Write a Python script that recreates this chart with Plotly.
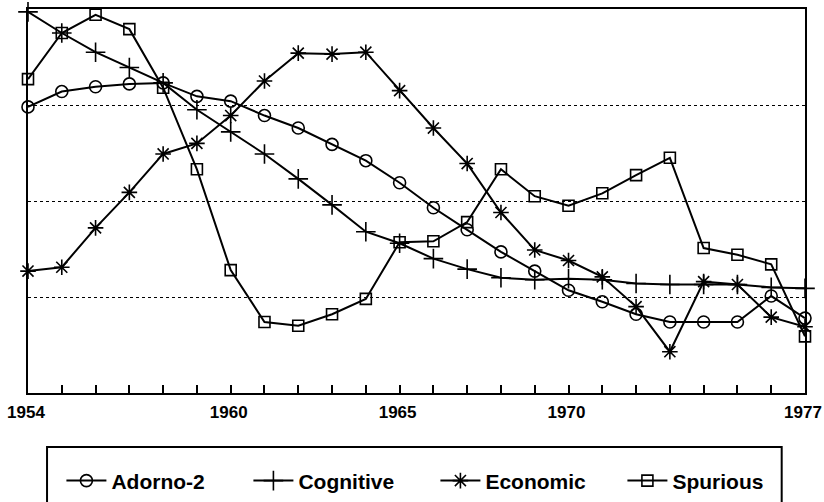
import plotly.graph_objects as go

years = list(range(1954, 1978))
adorno2 = [2.98, 3.14, 3.19, 3.22, 3.23, 3.09, 3.04, 2.89, 2.76, 2.59, 2.42, 2.19,
           1.93, 1.70, 1.47, 1.27, 1.07, 0.95, 0.82, 0.74, 0.74, 0.74, 1.01, 0.78]
cognitive = [3.97, 3.75, 3.55, 3.39, 3.23, 2.95, 2.72, 2.49, 2.23, 1.96, 1.68, 1.56,
             1.40, 1.29, 1.20, 1.18, 1.19, 1.18, 1.14, 1.13, 1.13, 1.13, 1.10, 1.09]
economic = [1.27, 1.31, 1.72, 2.09, 2.49, 2.60, 2.89, 3.25, 3.54, 3.53, 3.55, 3.15,
            2.76, 2.39, 1.88, 1.49, 1.38, 1.21, 0.90, 0.43, 1.16, 1.13, 0.79, 0.69]
spurious = [3.27, 3.75, 3.94, 3.79, 3.18, 2.33, 1.28, 0.74, 0.70, 0.82, 0.98, 1.57,
            1.58, 1.78, 2.33, 2.05, 1.95, 2.08, 2.27, 2.45, 1.51, 1.44, 1.34, 0.59]
labeled_years = {1954: "1954", 1960: "1960", 1965: "1965", 1970: "1970", 1977: "1977"}

series = [
    ("Adorno-2", adorno2, "circle-open", 12),
    ("Cognitive", cognitive, "cross-thin-open", 14),
    ("Economic", economic, "asterisk-open", 13),
    ("Spurious", spurious, "square-open", 11),
]

FONT = "Liberation Sans, Arial, sans-serif"

fig = go.Figure()
for name, vals, sym, size in series:
    fig.add_trace(go.Scatter(
        x=years, y=vals, name=name, mode="lines+markers",
        line=dict(color="black", width=2),
        marker=dict(symbol=sym, size=size, color="black",
                    line=dict(color="black", width=1.6)),
        cliponaxis=False,
    ))

fig.update_layout(
    width=824, height=502,
    margin=dict(l=28, r=19, t=9, b=109, autoexpand=False),
    paper_bgcolor="white", plot_bgcolor="white",
    font=dict(family=FONT, color="black"),
    showlegend=True,
    legend=dict(
        orientation="h", x=0.043, xanchor="left", y=-0.229, yanchor="middle",
        font=dict(size=21, family=FONT, color="black", weight="bold"),
        itemwidth=40, entrywidth=132, bgcolor="rgba(0,0,0,0)",
    ),
    shapes=[dict(type="rect", xref="paper", yref="paper",
                 x0=0.0245, x1=0.970, y0=-0.1406, y1=-0.6,
                 line=dict(color="black", width=2))],
)
fig.update_xaxes(
    range=[1954, 1977], showline=True, linecolor="black", linewidth=2, mirror=True,
    ticks="inside", ticklen=8, tickwidth=1.5, tickcolor="black",
    tickvals=years, ticktext=[labeled_years.get(y, "") for y in years],
    tickfont=dict(size=17, family=FONT, weight="bold"),
    ticklabelstandoff=3, ticklabelshift=-2, ticklabeloverflow="allow",
    showgrid=False, zeroline=False, automargin=False,
)
fig.update_yaxes(
    range=[0, 4], showline=True, linecolor="black", linewidth=2, mirror=True,
    tickvals=[1, 2, 3], showticklabels=False, ticks="",
    showgrid=True, gridcolor="black", gridwidth=1.2, griddash="dot",
    zeroline=False, automargin=False,
)
fig.write_html("out.html",
               config={"displayModeBar": False},
               post_script="document.body.style.margin='0';document.body.style.overflow='hidden';")
